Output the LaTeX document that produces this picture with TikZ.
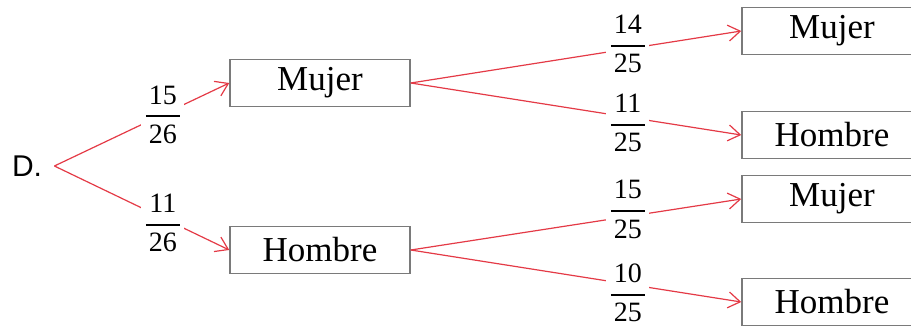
\documentclass[tikz,border=0pt]{standalone}
\usepackage{amsmath}
\usepackage{fontspec}
\setmainfont{Liberation Serif}
\newfontfamily\labelsans{Liberation Sans}
\usetikzlibrary{arrows.meta}
\definecolor{branchcolor}{HTML}{E43A46}
\definecolor{boxcolor}{HTML}{7A7A7A}
\newcommand{\pfrac}[2]{$\genfrac{}{}{0.9pt}{0}{\hbox{\kern1.5pt#1\kern1.5pt}}{\hbox{\kern1.5pt#2\kern1.5pt}}$}

\begin{document}
\begin{tikzpicture}[x=0.5pt,y=-0.5pt,
 box/.style={draw=boxcolor,line width=0.75pt,minimum width=90pt,
             minimum height=23.5pt,inner sep=0pt,
             font=\fontsize{17.5}{20}\selectfont},
 branch/.style={draw=branchcolor,line width=0.6pt,
                -{Straight Barb[length=6pt,width=8pt]}},
 prob/.style={fill=white,inner sep=1pt,font=\fontsize{14}{16}\selectfont}]
 \clip (0,0) rectangle (911,326);
 \node[font=\labelsans\fontsize{15}{18}\selectfont,inner sep=6pt] (d) at (27,166) {D.};
 \node[box] (m) at (320,83) {Mujer};
 \node[box] (h) at (320,250) {Hombre};
 \node[box] (mm) at (832,31) {Mujer};
 \node[box] (mh) at (832,135) {Hombre};
 \node[box] (hm) at (832,199) {Mujer};
 \node[box] (hh) at (832,302) {Hombre};
 \draw[branch] (d.east) -- node[prob,pos=0.62]{\pfrac{15}{26}} (m.west);
 \draw[branch] (d.east) -- node[prob,pos=0.62,yshift=-2.5pt]{\pfrac{11}{26}} (h.west);
 \draw[branch] (m.east) -- node[prob,pos=0.657,yshift=2.5pt]{\pfrac{14}{25}} (mm.west);
 \draw[branch] (m.east) -- node[prob,pos=0.657,yshift=-3pt]{\pfrac{11}{25}} (mh.west);
 \draw[branch] (h.east) -- node[prob,pos=0.657,yshift=3.5pt]{\pfrac{15}{25}} (hm.west);
 \draw[branch] (h.east) -- node[prob,pos=0.657,yshift=-4.5pt]{\pfrac{10}{25}} (hh.west);
\end{tikzpicture}
\end{document}
